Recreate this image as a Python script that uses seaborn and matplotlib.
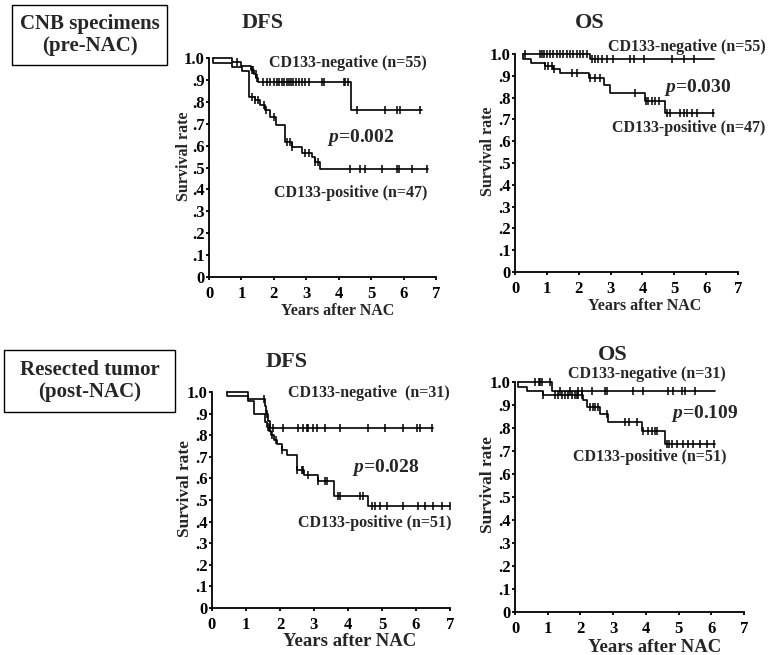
import matplotlib
matplotlib.use("Agg")
import matplotlib.pyplot as plt
import numpy as np
import seaborn as sns
from matplotlib.patches import Rectangle

# Kaplan-Meier steps: times (years after NAC) and survival
# DFS, CNB specimens (pre-NAC)
dfs_pre_neg_t = [0.13, 0.72, 1.00, 1.30, 1.38, 1.45, 1.52, 4.38, 6.56]
dfs_pre_neg_s = [1.00, 0.982, 0.964, 0.945, 0.927, 0.909, 0.890, 0.763, 0.763]
dfs_pre_neg_c = [0.85, 1.32, 1.37, 1.44, 1.49, 1.68, 1.78, 1.88, 1.99, 2.09, 2.16, 2.24,
                 2.31, 2.40, 2.47, 2.53, 2.60, 2.68, 2.76, 2.86, 2.96, 3.09, 3.48, 3.56,
                 4.15, 4.20, 4.28, 4.56, 5.43, 5.79, 5.89, 6.51]
dfs_pre_pos_t = [0.13, 0.13, 0.70, 1.01, 1.23, 1.42, 1.57, 1.73, 1.88, 2.07, 2.35, 2.55,
                 2.86, 3.17, 3.27, 3.43, 6.76]
dfs_pre_pos_s = [1.00, 0.979, 0.957, 0.940, 0.823, 0.808, 0.785, 0.763, 0.732, 0.694, 0.618,
                 0.595, 0.568, 0.549, 0.526, 0.492, 0.492]
dfs_pre_pos_c = [1.32, 1.42, 1.52, 1.71, 1.76, 2.01, 2.40, 2.50, 2.57, 2.96, 3.07, 3.27,
                 3.37, 4.35, 4.66, 4.81, 5.33, 5.79, 5.87, 6.26, 6.72]

# OS, CNB specimens (pre-NAC)
os_pre_neg_t = [0.26, 2.35, 6.24]
os_pre_neg_s = [1.00, 0.975, 0.975]
os_pre_neg_c = [0.31, 0.79, 0.86, 0.92, 1.00, 1.10, 1.18, 1.31, 1.42, 1.52, 1.63, 1.73,
                1.83, 1.94, 2.04, 2.15, 2.25, 2.41, 2.52, 2.62, 2.73, 2.88, 3.09, 3.62,
                3.72, 4.04, 4.93, 5.29, 5.61]
os_pre_pos_t = [0.26, 0.26, 0.49, 0.94, 1.20, 1.42, 2.33, 2.78, 2.99, 4.09, 4.72, 6.26]
os_pre_pos_s = [1.00, 0.979, 0.960, 0.945, 0.930, 0.912, 0.892, 0.857, 0.820, 0.785,
                0.728, 0.728]
os_pre_pos_c = [0.94, 1.05, 1.15, 1.21, 1.78, 1.94, 2.36, 2.52, 2.67, 3.77, 4.12, 4.19,
                4.30, 4.40, 4.51, 4.77, 4.87, 5.19, 5.29, 5.40, 5.56, 5.71, 6.20]

# DFS, resected tumor (post-NAC)
dfs_post_neg_t = [0.43, 1.05, 1.55, 1.60, 1.65, 1.70, 6.50]
dfs_post_neg_s = [1.00, 0.968, 0.935, 0.900, 0.866, 0.832, 0.832]
dfs_post_neg_c = [1.53, 1.62, 1.71, 1.80, 2.10, 2.54, 2.69, 2.78, 2.83, 2.98, 3.08, 3.32,
                  3.77, 4.60, 5.09, 5.63, 6.02, 6.12, 6.46]
dfs_post_pos_t = [0.43, 0.43, 1.07, 1.24, 1.56, 1.62, 1.68, 1.74, 1.82, 1.92, 2.06, 2.20,
                  2.49, 2.72, 3.12, 3.60, 4.60, 7.00]
dfs_post_pos_s = [1.00, 0.98, 0.96, 0.90, 0.86, 0.84, 0.82, 0.80, 0.78, 0.76, 0.73, 0.71,
                  0.64, 0.615, 0.59, 0.52, 0.47, 0.47]
dfs_post_pos_c = [1.66, 1.75, 1.87, 2.07, 2.49, 2.64, 2.69, 2.83, 3.13, 3.33, 3.37, 3.72,
                  3.77, 4.35, 4.45, 4.70, 4.79, 4.94, 5.14, 5.63, 6.07, 6.26, 6.51, 6.75, 7.00]

# OS, resected tumor (post-NAC)
os_post_neg_t = [0.10, 1.12, 6.12]
os_post_neg_s = [1.00, 0.960, 0.960]
os_post_neg_c = [0.61, 0.72, 0.77, 0.82, 1.07, 1.38, 1.68, 1.94, 2.04, 2.34, 2.75, 2.80,
                 3.62, 3.92, 4.69, 4.84, 5.10, 5.20, 5.51]
os_post_pos_t = [0.10, 0.10, 0.36, 0.87, 2.09, 2.19, 2.60, 2.85, 3.87, 4.59, 6.12]
os_post_pos_s = [1.00, 0.98, 0.96, 0.945, 0.920, 0.891, 0.863, 0.826, 0.786, 0.730, 0.730]
os_post_pos_c = [0.87, 1.22, 1.32, 1.43, 1.53, 1.63, 1.73, 1.83, 1.89, 1.94, 2.04, 2.29,
                 2.37, 2.45, 2.55, 2.80, 3.36, 3.47, 3.72, 3.92, 4.08, 4.18, 4.28, 4.35,
                 4.64, 4.72, 4.79, 4.94, 5.15, 5.30, 5.45, 5.66, 5.86, 6.07]

y_ticks = [0, .1, .2, .3, .4, .5, .6, .7, .8, .9, 1.0]
y_tick_labels = ["0", ".1", ".2", ".3", ".4", ".5", ".6", ".7", ".8", ".9", "1.0"]
x_ticks = [0, 1, 2, 3, 4, 5, 6, 7]

sns.set_style("ticks")
plt.rcParams["font.family"] = ["Liberation Serif", "DejaVu Serif"]
plt.rcParams["font.weight"] = "bold"
plt.rcParams["mathtext.fontset"] = "custom"
plt.rcParams["mathtext.it"] = "Liberation Serif:italic:bold"
plt.rcParams["mathtext.rm"] = "Liberation Serif:bold"

W, H = 769, 655
fig = plt.figure(figsize=(W / 100, H / 100), dpi=100)


def fx(px):
    return px / W


def fy(py):
    return 1 - py / H


def surv_at(t, s, c):
    # value of the step curve at each censor time
    idx = np.searchsorted(np.array(t), np.array(c), side="right") - 1
    return np.array(s)[np.clip(idx, 0, len(s) - 1)]


def km_panel(box, curves, title, title_xy, lab):
    x0, x7, y0, y1 = box
    xl_x, xl_size, yl_x, yl_size = lab
    ax = fig.add_axes([fx(x0), fy(y0), (x7 - x0) / W, (y0 - y1) / H])
    for t, s, c in curves:
        sns.lineplot(x=t, y=s, ax=ax, drawstyle="steps-post", estimator=None, sort=False,
                     color="black", linewidth=1.2, clip_on=False)
        sns.scatterplot(x=c, y=surv_at(t, s, c), ax=ax, marker="|", s=32, color="black",
                        linewidth=1.1, clip_on=False, zorder=3)
    ax.set_xlim(0, 7)
    ax.set_ylim(0, 1.0)
    ax.set_xticks(x_ticks)
    ax.set_yticks(y_ticks)
    ax.set_yticklabels(y_tick_labels)
    ax.tick_params(axis="both", direction="out", length=2.5, width=1.3, pad=0.5,
                   labelsize=12, colors="black")
    ax.tick_params(axis="x", pad=4, labelsize=12)
    for side in ["top", "right"]:
        ax.spines[side].set_visible(False)
    for side in ["left", "bottom"]:
        ax.spines[side].set_linewidth(1.3)
        ax.spines[side].set_color("black")
    ax.set_xlabel("Years after NAC", fontsize=xl_size, fontweight="bold")
    ax.set_ylabel("Survival rate", fontsize=yl_size, fontweight="bold")
    ax.xaxis.label.set_verticalalignment("center")
    ax.yaxis.label.set_verticalalignment("center")
    ax.xaxis.set_label_coords(xl_x, -0.155)
    ax.yaxis.set_label_coords(yl_x, 0.553)
    fig.text(fx(title_xy[0]), fy(title_xy[1]), title, fontsize=16, fontweight="bold",
             ha="center", va="center")
    return ax


def annotate(neg, pval, pos):
    for (txt, x, y), size in zip([neg, pval, pos], [11.5, 14, 11.5]):
        fig.text(fx(x), fy(y), txt, fontsize=size, fontweight="bold",
                 ha="center", va="center")


km_panel((209, 436, 277, 58),
         [(dfs_pre_neg_t, dfs_pre_neg_s, dfs_pre_neg_c),
          (dfs_pre_pos_t, dfs_pre_pos_s, dfs_pre_pos_c)], "DFS", (263, 23),
         (0.565, 11.5, -0.108, 11.5))
annotate(("CD133-negative (n=55)", 348, 63), (r"$\mathit{p}$=0.002", 361, 138),
         ("CD133-positive (n=47)", 351, 193))

km_panel((515, 738, 272, 54),
         [(os_pre_neg_t, os_pre_neg_s, os_pre_neg_c),
          (os_pre_pos_t, os_pre_pos_s, os_pre_pos_c)], "OS", (590, 23),
         (0.58, 11.5, -0.12, 11.5))
annotate(("CD133-negative (n=55)", 687, 47), (r"$\mathit{p}$=0.030", 698, 87),
         ("CD133-positive (n=47)", 689, 128))

km_panel((212, 450, 608, 392),
         [(dfs_post_neg_t, dfs_post_neg_s, dfs_post_neg_c),
          (dfs_post_pos_t, dfs_post_pos_s, dfs_post_pos_c)], "DFS", (287, 362),
         (0.58, 13.5, -0.113, 12.5))
annotate(("CD133-negative  (n=31)", 369, 393), (r"$\mathit{p}$=0.028", 386, 468),
         ("CD133-positive (n=51)", 375, 523))

km_panel((515, 744, 612, 382),
         [(os_post_neg_t, os_post_neg_s, os_post_neg_c),
          (os_post_pos_t, os_post_pos_s, os_post_pos_c)], "OS", (613, 355),
         (0.61, 13.5, -0.12, 12.5))
annotate(("CD133-negative (n=31)", 647, 374), (r"$\mathit{p}$=0.109", 705, 414),
         ("CD133-positive (n=51)", 650, 457))

# framed row labels on the left
for (bx0, by0, bx1, by1), label in [((12, 5, 167, 65), "CNB specimens\n(pre-NAC)"),
                                    ((4, 350, 175, 412), "Resected tumor\n(post-NAC)")]:
    fig.patches.append(Rectangle((fx(bx0), fy(by1)), (bx1 - bx0) / W, (by1 - by0) / H,
                                 transform=fig.transFigure, fill=False,
                                 edgecolor="black", linewidth=1.0))
    fig.text(fx((bx0 + bx1) / 2), fy((by0 + by1) / 2), label, fontsize=15,
             fontweight="bold", ha="center", va="center", linespacing=1.15)

fig.savefig("out.png", dpi=100)
